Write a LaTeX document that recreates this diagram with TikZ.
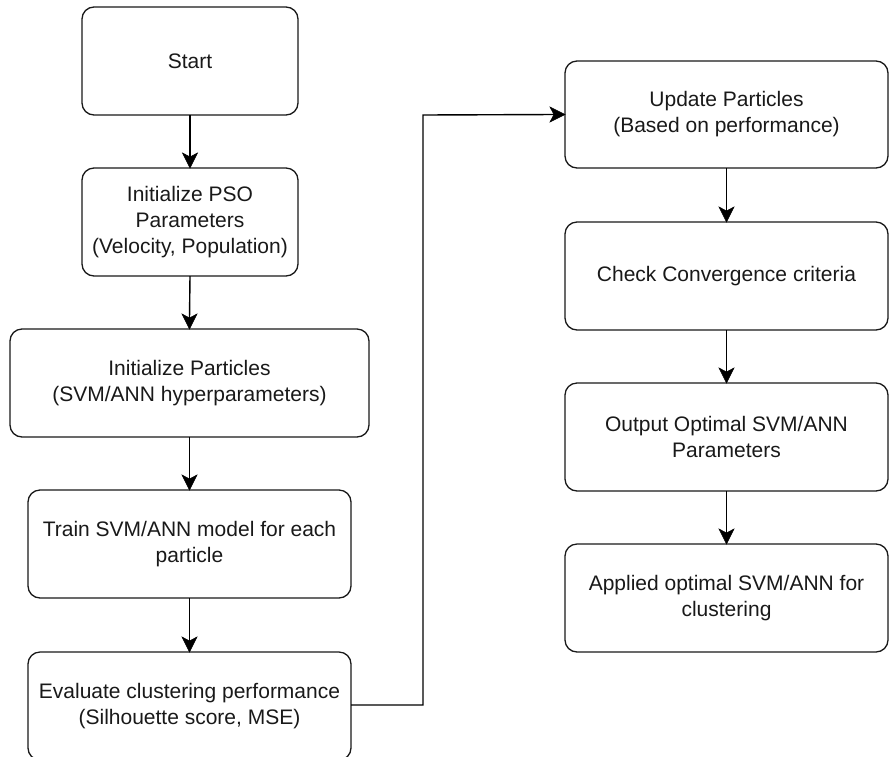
\documentclass[tikz,border=0pt]{standalone}
\usepackage{fontspec}
\setmainfont{Liberation Sans}
\tikzset{
  flowbox/.style={draw=black!90, line width=1.3pt, rounded corners=12pt},
  flowtext/.style={align=center, font=\fontsize{21}{26}\selectfont, inner sep=0pt, text=black!90},
  flowline/.style={draw=black, line width=1.4pt},
  headfill/.style={fill=black, draw=black, line width=0.6pt, line join=miter}
}
\newcommand{\mybox}[6]{% name, x1, y1, x2, y2, text
  \draw[flowbox] (#2pt,-#3pt) rectangle (#4pt,-#5pt);
  \node[flowtext] (#1) at ({(#2+#4)/2*1pt},{-(#3+#5)/2*1pt}) {#6};
  \coordinate (#1-n) at ({(#2+#4)/2*1pt},-#3pt);
  \coordinate (#1-s) at ({(#2+#4)/2*1pt},-#5pt);
  \coordinate (#1-w) at (#2pt,{-(#3+#5)/2*1pt});
  \coordinate (#1-e) at (#4pt,{-(#3+#5)/2*1pt});
}
\newcommand{\flowdown}[2]{%
  \draw[flowline] (#1) -- ([yshift=10pt]#2);
  \path[headfill] ([xshift=-7.5pt,yshift=15pt]#2) -- (#2) -- ([xshift=7.5pt,yshift=15pt]#2) -- ([yshift=11pt]#2) -- cycle;
}
\begin{document}
\begin{tikzpicture}
\useasboundingbox (0pt,0pt) rectangle (891pt,-756pt);
\begin{scope}
\clip (0pt,0pt) rectangle (891pt,-756pt);
\mybox{start}{82}{7}{298}{115}{Start}
\mybox{pso}{82}{168}{298}{276}{Initialize PSO\\Parameters\\(Velocity, Population)}
\mybox{initp}{10}{329}{369}{437}{Initialize Particles\\(SVM/ANN hyperparameters)}
\mybox{train}{28}{490}{351}{598}{Train SVM/ANN model for each\\particle}
\mybox{eval}{28}{652}{351}{760}{Evaluate clustering performance\\(Silhouette score, MSE)}
\mybox{upd}{565}{61}{888}{168}{Update Particles\\(Based on performance)}
\mybox{check}{565}{222}{888}{330}{Check Convergence criteria}
\mybox{out}{565}{383}{888}{491}{Output Optimal SVM/ANN\\Parameters}
\mybox{appl}{565}{544}{888}{652}{Applied optimal SVM/ANN for\\clustering}
\end{scope}
\flowdown{start-s}{pso-n}
\flowdown{pso-s}{initp-n}
\flowdown{initp-s}{train-n}
\flowdown{train-s}{eval-n}
\coordinate (bendlow) at (423pt,-705pt);
\coordinate (bendhigh) at (423pt,-115pt);
\draw[flowline] (eval-e |- bendlow) -- (bendlow) -- (bendhigh) -- ([xshift=-10pt]upd-w);
\path[headfill] ([xshift=-15pt,yshift=7.5pt]upd-w) -- (upd-w) -- ([xshift=-15pt,yshift=-7.5pt]upd-w) -- ([xshift=-11pt]upd-w) -- cycle;
\flowdown{upd-s}{check-n}
\flowdown{check-s}{out-n}
\flowdown{out-s}{appl-n}
\end{tikzpicture}
\end{document}
